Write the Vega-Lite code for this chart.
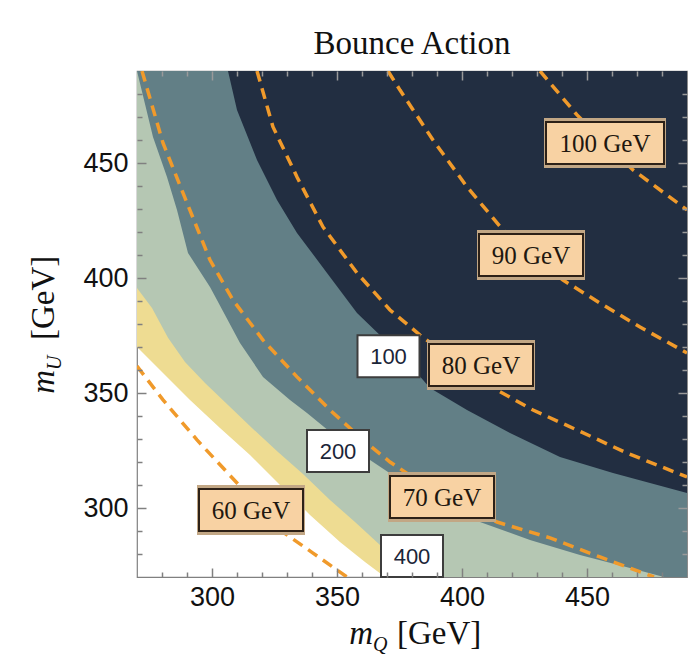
{
  "$schema": "https://vega.github.io/schema/vega-lite/v6.json",
  "width": 550,
  "height": 506,
  "autosize": {"type": "none"},
  "padding": {"left": 137, "top": 71, "right": 3, "bottom": 83},
  "background": "white",
  "config": {
    "view": {"stroke": "#808080", "strokeWidth": 1.2},
    "axis": {"grid": false, "domain": false, "title": null, "labelOverlap": false, "labelFlush": false}
  },
  "title": {
    "text": "Bounce Action",
    "font": "Liberation Serif",
    "fontSize": 33,
    "fontWeight": "normal",
    "color": "#111111",
    "anchor": "middle",
    "frame": "group",
    "baseline": "alphabetic",
    "offset": -17
  },
  "datasets": {
    "bands": [
      {"fill": "yellow", "x": 270, "y": 370.0},
      {"fill": "yellow", "x": 280.4, "y": 358.7},
      {"fill": "yellow", "x": 291.2, "y": 347.0},
      {"fill": "yellow", "x": 303.2, "y": 334.8},
      {"fill": "yellow", "x": 315.2, "y": 323.0},
      {"fill": "yellow", "x": 327.2, "y": 310.0},
      {"fill": "yellow", "x": 339.2, "y": 297.0},
      {"fill": "yellow", "x": 351.2, "y": 285.2},
      {"fill": "yellow", "x": 361.2, "y": 276.5},
      {"fill": "yellow", "x": 369.2, "y": 270},
      {"fill": "yellow", "x": 490, "y": 270},
      {"fill": "sage", "x": 270, "y": 395.7},
      {"fill": "sage", "x": 276, "y": 387.0},
      {"fill": "sage", "x": 282.4, "y": 374.0},
      {"fill": "sage", "x": 289.2, "y": 363.5},
      {"fill": "sage", "x": 297.2, "y": 354.3},
      {"fill": "sage", "x": 306.4, "y": 344.8},
      {"fill": "sage", "x": 316, "y": 334.8},
      {"fill": "sage", "x": 326.4, "y": 324.3},
      {"fill": "sage", "x": 336.4, "y": 314.8},
      {"fill": "sage", "x": 347.2, "y": 303.5},
      {"fill": "sage", "x": 357.2, "y": 293.9},
      {"fill": "sage", "x": 367.2, "y": 283.9},
      {"fill": "sage", "x": 379.2, "y": 276.5},
      {"fill": "sage", "x": 391.2, "y": 270},
      {"fill": "sage", "x": 490, "y": 270},
      {"fill": "slate", "x": 270, "y": 490},
      {"fill": "slate", "x": 276.4, "y": 461.3},
      {"fill": "slate", "x": 282, "y": 443.9},
      {"fill": "slate", "x": 286, "y": 429.6},
      {"fill": "slate", "x": 290.4, "y": 410.9},
      {"fill": "slate", "x": 299.2, "y": 396.1},
      {"fill": "slate", "x": 302, "y": 390.4},
      {"fill": "slate", "x": 311.2, "y": 371.7},
      {"fill": "slate", "x": 320.4, "y": 357},
      {"fill": "slate", "x": 331.2, "y": 347},
      {"fill": "slate", "x": 338, "y": 341.3},
      {"fill": "slate", "x": 351.2, "y": 329.6},
      {"fill": "slate", "x": 363.2, "y": 320.9},
      {"fill": "slate", "x": 375.2, "y": 312.2},
      {"fill": "slate", "x": 391.2, "y": 301.3},
      {"fill": "slate", "x": 407.2, "y": 293.9},
      {"fill": "slate", "x": 427.2, "y": 286.1},
      {"fill": "slate", "x": 447.2, "y": 279.6},
      {"fill": "slate", "x": 467.2, "y": 273.9},
      {"fill": "slate", "x": 480.8, "y": 270},
      {"fill": "slate", "x": 490, "y": 270},
      {"fill": "navy", "x": 306.4, "y": 490},
      {"fill": "navy", "x": 310, "y": 473},
      {"fill": "navy", "x": 318, "y": 451.3},
      {"fill": "navy", "x": 326, "y": 433.9},
      {"fill": "navy", "x": 334, "y": 419.6},
      {"fill": "navy", "x": 346, "y": 402.2},
      {"fill": "navy", "x": 358, "y": 384.8},
      {"fill": "navy", "x": 369.2, "y": 373},
      {"fill": "navy", "x": 379.2, "y": 362.2},
      {"fill": "navy", "x": 387.2, "y": 352.2},
      {"fill": "navy", "x": 402, "y": 342.6},
      {"fill": "navy", "x": 419.2, "y": 332.6},
      {"fill": "navy", "x": 439.2, "y": 322.2},
      {"fill": "navy", "x": 460.4, "y": 315.2},
      {"fill": "navy", "x": 490, "y": 306.5}
    ],
    "contours": [
      {"level": "60 GeV", "x": 270, "y": 361.7},
      {"level": "60 GeV", "x": 280.4, "y": 347},
      {"level": "60 GeV", "x": 294, "y": 329.6},
      {"level": "60 GeV", "x": 305.2, "y": 316.5},
      {"level": "60 GeV", "x": 315.2, "y": 304.8},
      {"level": "60 GeV", "x": 327.2, "y": 290.4},
      {"level": "60 GeV", "x": 340.4, "y": 280.4},
      {"level": "60 GeV", "x": 354, "y": 270},
      {"level": "70 GeV", "x": 272, "y": 490},
      {"level": "70 GeV", "x": 280.4, "y": 458.7},
      {"level": "70 GeV", "x": 288.4, "y": 437},
      {"level": "70 GeV", "x": 299.2, "y": 407.8},
      {"level": "70 GeV", "x": 308.4, "y": 390.4},
      {"level": "70 GeV", "x": 320.4, "y": 373},
      {"level": "70 GeV", "x": 334, "y": 357},
      {"level": "70 GeV", "x": 347.2, "y": 342.6},
      {"level": "70 GeV", "x": 360.4, "y": 329.6},
      {"level": "70 GeV", "x": 371.2, "y": 320},
      {"level": "70 GeV", "x": 383.2, "y": 311.3},
      {"level": "70 GeV", "x": 395.2, "y": 303.5},
      {"level": "70 GeV", "x": 414, "y": 293.9},
      {"level": "70 GeV", "x": 435.2, "y": 287},
      {"level": "70 GeV", "x": 455.2, "y": 278.7},
      {"level": "70 GeV", "x": 476.8, "y": 270},
      {"level": "80 GeV", "x": 318, "y": 490},
      {"level": "80 GeV", "x": 324.4, "y": 465.7},
      {"level": "80 GeV", "x": 334, "y": 443.9},
      {"level": "80 GeV", "x": 344.4, "y": 422.2},
      {"level": "80 GeV", "x": 358, "y": 402.2},
      {"level": "80 GeV", "x": 371.2, "y": 386.1},
      {"level": "80 GeV", "x": 383.2, "y": 375.2},
      {"level": "80 GeV", "x": 399.2, "y": 362.2},
      {"level": "80 GeV", "x": 414, "y": 351.3},
      {"level": "80 GeV", "x": 428.4, "y": 342.6},
      {"level": "80 GeV", "x": 446, "y": 333.9},
      {"level": "80 GeV", "x": 466, "y": 323.9},
      {"level": "80 GeV", "x": 490, "y": 313.5},
      {"level": "90 GeV", "x": 370.4, "y": 490},
      {"level": "90 GeV", "x": 375.2, "y": 481.7},
      {"level": "90 GeV", "x": 388.4, "y": 460},
      {"level": "90 GeV", "x": 402, "y": 439.6},
      {"level": "90 GeV", "x": 416.4, "y": 420.9},
      {"level": "90 GeV", "x": 428.4, "y": 409.1},
      {"level": "90 GeV", "x": 440.4, "y": 399.1},
      {"level": "90 GeV", "x": 455.2, "y": 389.1},
      {"level": "90 GeV", "x": 471.2, "y": 378.7},
      {"level": "90 GeV", "x": 490, "y": 367.4},
      {"level": "100 GeV", "x": 431.2, "y": 490},
      {"level": "100 GeV", "x": 446, "y": 470.9},
      {"level": "100 GeV", "x": 457.2, "y": 458.7},
      {"level": "100 GeV", "x": 468.4, "y": 447},
      {"level": "100 GeV", "x": 490, "y": 429.6}
    ],
    "massTags": [
      {"tag": "100 GeV", "x": 457.2, "y": 458.7},
      {"tag": "90 GeV", "x": 427.6, "y": 410},
      {"tag": "80 GeV", "x": 407.6, "y": 362.2},
      {"tag": "70 GeV", "x": 392, "y": 304.8},
      {"tag": "60 GeV", "x": 315.6, "y": 299.1}
    ],
    "actionTags": [
      {"tag": "100", "x": 370.6, "y": 366},
      {"tag": "200", "x": 350.4, "y": 324.8},
      {"tag": "400", "x": 380, "y": 279.1}
    ]
  },
  "layer": [
    {
      "data": {"name": "bands"},
      "transform": [{"filter": "datum.fill === 'yellow'"}],
      "mark": {"type": "area", "color": "#eedc92", "clip": true},
      "encoding": {
        "x": {
          "field": "x", "type": "quantitative",
          "scale": {"domain": [270, 490], "nice": false, "zero": false},
          "axis": {
            "orient": "bottom",
            "values": [300, 350, 400, 450],
            "tickSize": 0,
            "labelFont": "Liberation Sans",
            "labelFontSize": 27,
            "labelColor": "#111111",
            "labelPadding": 7,
            "zindex": 2
          }
        },
        "y": {
          "field": "y", "type": "quantitative",
          "scale": {"domain": [270, 490], "nice": false, "zero": false},
          "axis": {
            "orient": "left",
            "values": [300, 350, 400, 450],
            "tickSize": 0,
            "labelFont": "Liberation Sans",
            "labelFontSize": 27,
            "labelColor": "#111111",
            "labelPadding": 9,
            "zindex": 2
          }
        },
        "y2": {"datum": 490}
      }
    },
    {
      "data": {"name": "bands"},
      "transform": [{"filter": "datum.fill === 'sage'"}],
      "mark": {"type": "area", "color": "#b5c7b3", "clip": true},
      "encoding": {
        "x": {
          "field": "x", "type": "quantitative",
          "scale": {"domain": [270, 490], "nice": false, "zero": false},
          "axis": {"orient": "bottom", "values": [300, 350, 400, 450], "labels": false, "ticks": true, "tickSize": 9, "tickColor": "#808080", "tickWidth": 1.5, "offset": -9, "zindex": 2}
        },
        "y": {
          "field": "y", "type": "quantitative",
          "scale": {"domain": [270, 490], "nice": false, "zero": false},
          "axis": {"orient": "left", "values": [300, 350, 400, 450], "labels": false, "ticks": true, "tickSize": 9, "tickColor": "#808080", "tickWidth": 1.5, "offset": -9, "zindex": 2}
        },
        "y2": {"datum": 490}
      }
    },
    {
      "data": {"name": "bands"},
      "transform": [{"filter": "datum.fill === 'slate'"}],
      "mark": {"type": "area", "color": "#627f86", "clip": true},
      "encoding": {
        "x": {
          "field": "x", "type": "quantitative",
          "scale": {"domain": [270, 490], "nice": false, "zero": false},
          "axis": {"orient": "bottom", "values": [280, 290, 310, 320, 330, 340, 360, 370, 380, 390, 410, 420, 430, 440, 460, 470, 480], "labels": false, "ticks": true, "tickSize": 5, "tickColor": "#808080", "tickWidth": 1.5, "offset": -5, "zindex": 2}
        },
        "y": {
          "field": "y", "type": "quantitative",
          "scale": {"domain": [270, 490], "nice": false, "zero": false},
          "axis": {"orient": "left", "values": [280, 290, 310, 320, 330, 340, 360, 370, 380, 390, 410, 420, 430, 440, 460, 470, 480], "labels": false, "ticks": true, "tickSize": 5, "tickColor": "#808080", "tickWidth": 1.5, "offset": -5, "zindex": 2}
        },
        "y2": {"datum": 490}
      }
    },
    {
      "data": {"name": "bands"},
      "transform": [{"filter": "datum.fill === 'navy'"}],
      "mark": {"type": "area", "color": "#222e41", "clip": true},
      "encoding": {
        "x": {
          "field": "x", "type": "quantitative",
          "scale": {"domain": [270, 490], "nice": false, "zero": false},
          "axis": {"orient": "top", "values": [300, 350, 400, 450], "labels": false, "ticks": true, "tickSize": 9, "tickColor": "#9a9a9a", "tickWidth": 1.5, "offset": -9, "zindex": 2}
        },
        "y": {
          "field": "y", "type": "quantitative",
          "scale": {"domain": [270, 490], "nice": false, "zero": false},
          "axis": {"orient": "right", "values": [300, 350, 400, 450], "labels": false, "ticks": true, "tickSize": 9, "tickColor": "#9a9a9a", "tickWidth": 1.5, "offset": -9, "zindex": 2}
        },
        "y2": {"datum": 490}
      }
    },
    {
      "data": {"name": "contours"},
      "mark": {"type": "line", "color": "#f09a2b", "strokeWidth": 3.5, "strokeDash": [11, 7], "clip": true},
      "encoding": {
        "x": {
          "field": "x", "type": "quantitative",
          "scale": {"domain": [270, 490], "nice": false, "zero": false},
          "axis": {"orient": "top", "values": [280, 290, 310, 320, 330, 340, 360, 370, 380, 390, 410, 420, 430, 440, 460, 470, 480], "labels": false, "ticks": true, "tickSize": 5, "tickColor": "#9a9a9a", "tickWidth": 1.5, "offset": -5, "zindex": 2}
        },
        "y": {
          "field": "y", "type": "quantitative",
          "scale": {"domain": [270, 490], "nice": false, "zero": false},
          "axis": {"orient": "right", "values": [280, 290, 310, 320, 330, 340, 360, 370, 380, 390, 410, 420, 430, 440, 460, 470, 480], "labels": false, "ticks": true, "tickSize": 5, "tickColor": "#9a9a9a", "tickWidth": 1.5, "offset": -5, "zindex": 2}
        },
        "detail": {"field": "level", "type": "nominal"}
      }
    },
    {
      "data": {"name": "massTags"},
      "transform": [{"filter": "datum.tag === '100 GeV'"}],
      "mark": {"type": "rect", "color": "#c2a785", "xOffset": -61, "x2Offset": 61, "yOffset": -25, "y2Offset": 25},
      "encoding": {
        "x": {"field": "x", "type": "quantitative", "axis": null},
        "x2": {"field": "x"},
        "y": {"field": "y", "type": "quantitative", "axis": null},
        "y2": {"field": "y"}
      }
    },
    {
      "data": {"name": "massTags"},
      "transform": [{"filter": "datum.tag === '100 GeV'"}],
      "mark": {"type": "rect", "fill": "#f8d2a3", "stroke": "#2d2117", "strokeWidth": 2, "xOffset": -59, "x2Offset": 59, "yOffset": -21, "y2Offset": 21},
      "encoding": {
        "x": {"field": "x", "type": "quantitative", "axis": null},
        "x2": {"field": "x"},
        "y": {"field": "y", "type": "quantitative", "axis": null},
        "y2": {"field": "y"}
      }
    },
    {
      "data": {"name": "massTags"},
      "transform": [{"filter": "datum.tag !== '100 GeV'"}],
      "mark": {"type": "rect", "color": "#c2a785", "xOffset": -54, "x2Offset": 54, "yOffset": -25, "y2Offset": 25},
      "encoding": {
        "x": {"field": "x", "type": "quantitative", "axis": null},
        "x2": {"field": "x"},
        "y": {"field": "y", "type": "quantitative", "axis": null},
        "y2": {"field": "y"}
      }
    },
    {
      "data": {"name": "massTags"},
      "transform": [{"filter": "datum.tag !== '100 GeV'"}],
      "mark": {"type": "rect", "fill": "#f8d2a3", "stroke": "#2d2117", "strokeWidth": 2, "xOffset": -52, "x2Offset": 52, "yOffset": -21, "y2Offset": 21},
      "encoding": {
        "x": {"field": "x", "type": "quantitative", "axis": null},
        "x2": {"field": "x"},
        "y": {"field": "y", "type": "quantitative", "axis": null},
        "y2": {"field": "y"}
      }
    },
    {
      "data": {"name": "massTags"},
      "mark": {"type": "text", "font": "Liberation Serif", "fontSize": 25, "color": "#21170f", "align": "center", "baseline": "middle", "dy": 1},
      "encoding": {
        "x": {"field": "x", "type": "quantitative", "axis": null},
        "y": {"field": "y", "type": "quantitative", "axis": null},
        "text": {"field": "tag"}
      }
    },
    {
      "data": {"name": "actionTags"},
      "mark": {"type": "rect", "fill": "#ffffff", "stroke": "#3d3d3d", "strokeWidth": 2, "xOffset": -31, "x2Offset": 31, "yOffset": -21, "y2Offset": 21},
      "encoding": {
        "x": {"field": "x", "type": "quantitative", "axis": null},
        "x2": {"field": "x"},
        "y": {"field": "y", "type": "quantitative", "axis": null},
        "y2": {"field": "y"}
      }
    },
    {
      "data": {"name": "actionTags"},
      "mark": {"type": "text", "font": "Liberation Sans", "fontSize": 22, "color": "#1b2538", "align": "center", "baseline": "middle", "dy": 1},
      "encoding": {
        "x": {"field": "x", "type": "quantitative", "axis": null},
        "y": {"field": "y", "type": "quantitative", "axis": null},
        "text": {"field": "tag"}
      }
    },
    {
      "data": {"values": [{}]},
      "mark": {"type": "text", "text": "m", "font": "Liberation Serif", "fontStyle": "italic", "fontSize": 33, "color": "#111111", "align": "right", "baseline": "alphabetic", "dx": -39, "dy": 67},
      "encoding": {
        "x": {"datum": 380, "type": "quantitative", "axis": null},
        "y": {"datum": 270, "type": "quantitative", "axis": null}
      }
    },
    {
      "data": {"values": [{}]},
      "mark": {"type": "text", "text": "Q", "font": "Liberation Serif", "fontStyle": "italic", "fontSize": 20, "color": "#111111", "align": "left", "baseline": "alphabetic", "dx": -39, "dy": 74},
      "encoding": {
        "x": {"datum": 380, "type": "quantitative", "axis": null},
        "y": {"datum": 270, "type": "quantitative", "axis": null}
      }
    },
    {
      "data": {"values": [{}]},
      "mark": {"type": "text", "text": "[GeV]", "font": "Liberation Serif", "fontSize": 33, "color": "#111111", "align": "left", "baseline": "alphabetic", "dx": -15, "dy": 67},
      "encoding": {
        "x": {"datum": 380, "type": "quantitative", "axis": null},
        "y": {"datum": 270, "type": "quantitative", "axis": null}
      }
    },
    {
      "data": {"values": [{}]},
      "mark": {"type": "text", "text": "m", "font": "Liberation Serif", "fontStyle": "italic", "fontSize": 33, "color": "#111111", "angle": 270, "align": "right", "baseline": "alphabetic", "dx": -46, "dy": -83},
      "encoding": {
        "x": {"datum": 270, "type": "quantitative", "axis": null},
        "y": {"datum": 380, "type": "quantitative", "axis": null}
      }
    },
    {
      "data": {"values": [{}]},
      "mark": {"type": "text", "text": "U", "font": "Liberation Serif", "fontStyle": "italic", "fontSize": 20, "color": "#111111", "angle": 270, "align": "left", "baseline": "alphabetic", "dx": -46, "dy": -76},
      "encoding": {
        "x": {"datum": 270, "type": "quantitative", "axis": null},
        "y": {"datum": 380, "type": "quantitative", "axis": null}
      }
    },
    {
      "data": {"values": [{}]},
      "mark": {"type": "text", "text": "[GeV]", "font": "Liberation Serif", "fontSize": 33, "color": "#111111", "angle": 270, "align": "left", "baseline": "alphabetic", "dx": -16, "dy": -83},
      "encoding": {
        "x": {"datum": 270, "type": "quantitative", "axis": null},
        "y": {"datum": 380, "type": "quantitative", "axis": null}
      }
    }
  ],
  "resolve": {"axis": {"x": "independent", "y": "independent"}}
}
